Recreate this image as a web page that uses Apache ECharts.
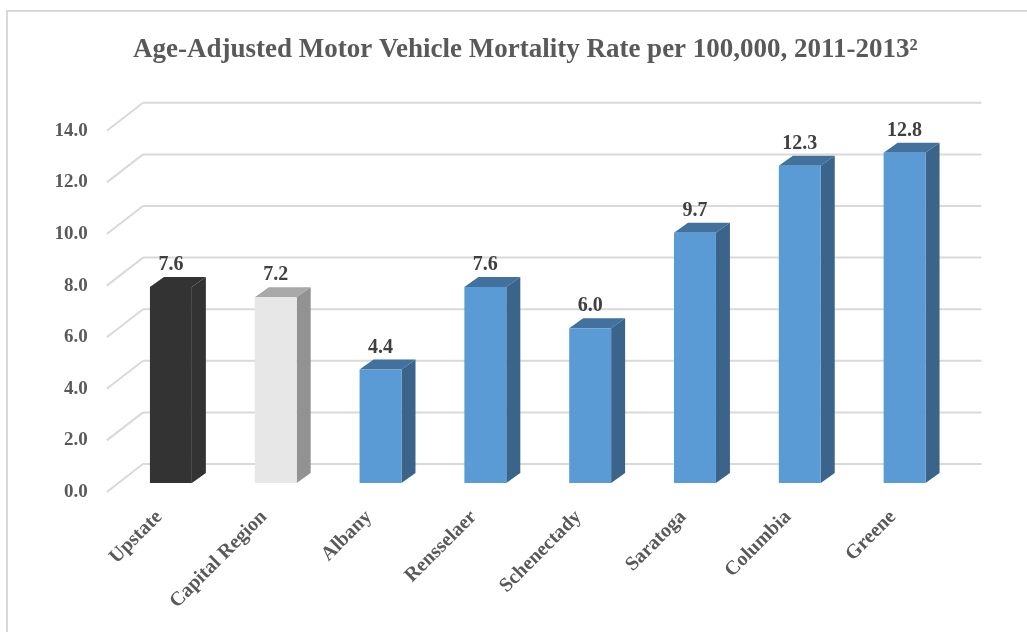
<!DOCTYPE html>
<html>
<head>
<meta charset="utf-8">
<script src="https://cdn.jsdelivr.net/npm/echarts@6/dist/echarts.min.js"></script>
<style>
  html, body { margin: 0; padding: 0; background: #fff; }
  #chart { width: 1027px; height: 632px; }
</style>
</head>
<body>
<div id="chart"></div>
<script>
// data
const categories = ['Upstate', 'Capital Region', 'Albany', 'Rensselaer', 'Schenectady', 'Saratoga', 'Columbia', 'Greene'];
const rates = [7.6, 7.2, 4.4, 7.6, 6.0, 9.7, 12.3, 12.8];
const yTicks = [0, 2, 4, 6, 8, 10, 12, 14];

const FONT = 'Liberation Serif';
// face colours: [front, top, side]
const faceColors = [
  ['#333333', '#333333', '#333333'],
  ['#e7e7e7', '#a9a9a9', '#929292'],
];
const blueFaces = ['#5b9bd5', '#41719c', '#3a6489'];

// depth of a bar, and offsets from the bar plane to the back wall / front edge
const BAR_DX = 14, BAR_DY = -10;
const BACK_DX = 24.5, BACK_DY = -19;
const FRONT_DX = -11.7, FRONT_DY = 9;

const chart = echarts.init(document.getElementById('chart'));

function renderGrid(params, api) {
  const p = api.coord([0, api.value(0)]);
  const x0 = params.coordSys.x;
  const x1 = params.coordSys.x + params.coordSys.width;
  const y = p[1];
  const style = { stroke: '#d9d9d9', lineWidth: 2, fill: null };
  return {
    type: 'group',
    children: [
      { type: 'line', shape: { x1: x0 + BACK_DX, y1: y + BACK_DY, x2: x1 + BACK_DX, y2: y + BACK_DY }, style: style },
      { type: 'line', shape: { x1: x0 + BACK_DX, y1: y + BACK_DY, x2: x0 + FRONT_DX, y2: y + FRONT_DY }, style: style },
    ],
  };
}

function renderBar(params, api) {
  const idx = params.dataIndex;
  const top = api.coord([api.value(0), api.value(1)]);
  const base = api.coord([api.value(0), 0]);
  const w = api.size([1, 0])[0] * 0.4;
  const l = top[0] - w / 2, r = top[0] + w / 2;
  const t = top[1], b = base[1];
  const c = faceColors[idx] || blueFaces;
  return {
    type: 'group',
    children: [
      { type: 'polygon', shape: { points: [[l, t], [r, t], [r + BAR_DX, t + BAR_DY], [l + BAR_DX, t + BAR_DY]] }, style: { fill: c[1] } },
      { type: 'polygon', shape: { points: [[r, t], [r + BAR_DX, t + BAR_DY], [r + BAR_DX, b + BAR_DY], [r, b]] }, style: { fill: c[2] } },
      { type: 'rect', shape: { x: l, y: t, width: w, height: b - t }, style: { fill: c[0] } },
      {
        type: 'text',
        style: {
          x: top[0], y: t + BAR_DY - 2,
          text: api.value(1).toFixed(1),
          fill: '#404040', font: 'bold 20px "' + FONT + '"',
          align: 'center', verticalAlign: 'bottom',
        },
      },
    ],
  };
}

chart.setOption({
  animation: false,
  title: {
    text: 'Age-Adjusted Motor Vehicle Mortality Rate per 100,000, 2011-2013²',
    left: 133,
    top: 37,
    padding: 0,
    textStyle: { fontFamily: FONT, fontSize: 27, fontWeight: 'bold', color: '#595959' },
  },
  graphic: [{
    type: 'rect',
    shape: { x: 7, y: 11, width: 1100, height: 700 },
    style: { fill: null, stroke: '#d9d9d9', lineWidth: 2 },
    silent: true,
  }],
  grid: [
    // bar plane
    { left: 118.5, right: 70, top: 121.8, bottom: 149 },
    // front plane, carries the axis labels
    { left: 106.8, right: 81.7, top: 130.8, bottom: 140 },
  ],
  xAxis: [
    { gridIndex: 0, type: 'category', data: categories, show: false },
    {
      gridIndex: 1, type: 'category', data: categories,
      axisLine: { show: false }, axisTick: { show: false },
      axisLabel: {
        rotate: 45, margin: 22, interval: 0,
        fontFamily: FONT, fontSize: 20, fontWeight: 'bold', color: '#595959',
      },
    },
  ],
  yAxis: [
    { gridIndex: 0, type: 'value', min: 0, max: 14, interval: 2, show: false },
    {
      gridIndex: 1, type: 'value', min: 0, max: 14, interval: 2,
      axisLine: { show: false }, axisTick: { show: false }, splitLine: { show: false },
      axisLabel: {
        margin: 19,
        formatter: v => v.toFixed(1),
        fontFamily: FONT, fontSize: 19, fontWeight: 'bold', color: '#595959',
      },
    },
  ],
  series: [
    {
      type: 'custom',
      xAxisIndex: 0, yAxisIndex: 0,
      renderItem: renderGrid,
      data: yTicks.map(v => [v]),
      encode: { y: 0 },
      clip: false,
      silent: true,
      z: 1,
    },
    {
      type: 'custom',
      xAxisIndex: 0, yAxisIndex: 0,
      renderItem: renderBar,
      data: rates.map((v, i) => [i, v]),
      encode: { x: 0, y: 1 },
      clip: false,
      z: 2,
    },
  ],
});
</script>
</body>
</html>
